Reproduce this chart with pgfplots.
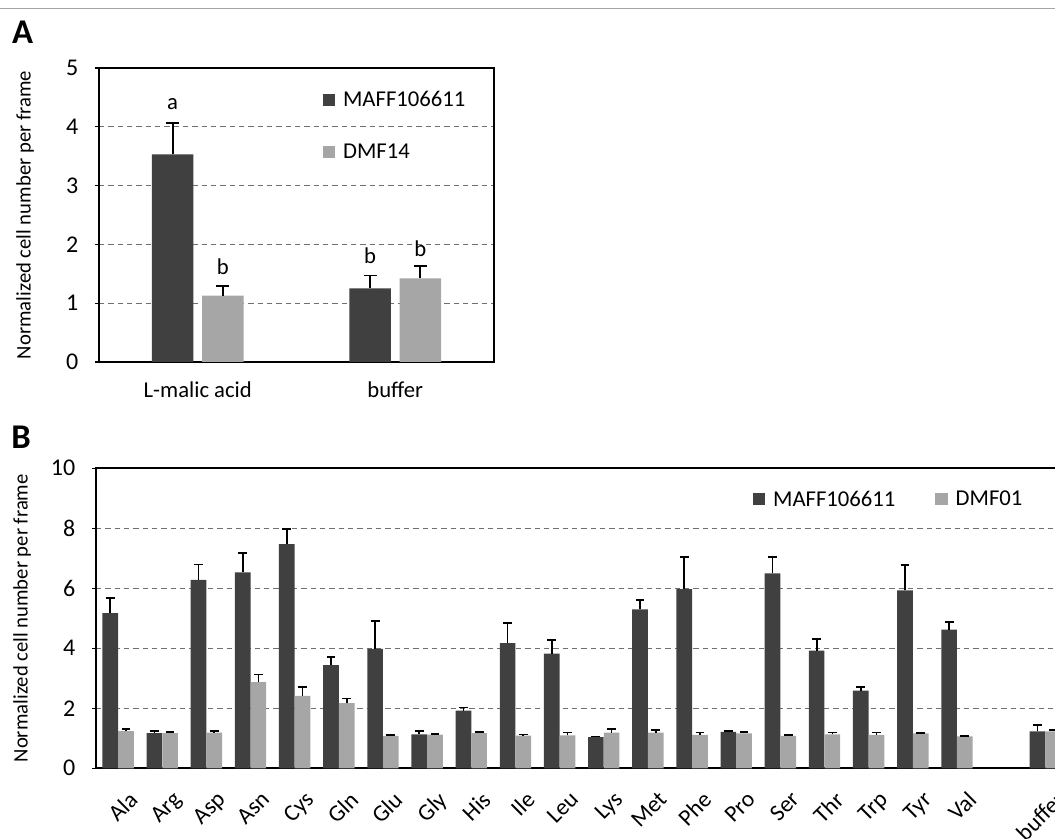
\documentclass[border=0pt]{standalone}
\usepackage{fontspec}
\setmainfont{Carlito}
\usepackage{pgfplots}
\pgfplotsset{compat=1.18}
\usepackage{pgfplotstable}
\usetikzlibrary{calc}

\definecolor{dk}{HTML}{404040}
\definecolor{lt}{HTML}{A6A6A6}
\definecolor{gridc}{HTML}{707070}

\pgfplotstableread{
x y e
0 3.53 0.54
1 1.25 0.22
}\Amaff
\pgfplotstableread{
x y e
0 1.13 0.16
1 1.42 0.21
}\Admf

% B: Ala Arg Asp Asn Cys Gln Glu Gly His Ile Leu Lys Met Phe Pro Ser Thr Trp Tyr Val (gap) buffer
\pgfplotstableread{
x y e
0 5.17 0.50
1 1.17 0.07
2 6.28 0.51
3 6.53 0.65
4 7.47 0.50
5 3.44 0.28
6 3.98 0.93
7 1.13 0.11
8 1.92 0.11
9 4.17 0.68
10 3.82 0.46
11 1.04 0.02
12 5.30 0.31
13 5.97 1.06
14 1.21 0.03
15 6.50 0.53
16 3.92 0.39
17 2.59 0.12
18 5.93 0.85
19 4.62 0.26
21 1.23 0.21
}\Bmaff
\pgfplotstableread{
x y e
0 1.24 0.07
1 1.17 0.05
2 1.19 0.05
3 2.87 0.26
4 2.41 0.29
5 2.17 0.16
6 1.08 0.03
7 1.12 0.02
8 1.17 0.04
9 1.09 0.04
10 1.10 0.09
11 1.19 0.12
12 1.19 0.09
13 1.11 0.08
14 1.16 0.05
15 1.08 0.03
16 1.13 0.06
17 1.11 0.08
18 1.16 0.02
19 1.06 0.02
21 1.23 0.05
}\Bdmf

\pgfplotsset{
  common/.style={
    scale only axis,
    anchor=south west,
    axis line style={line width=1.5pt, black},
    tick align=outside,
    major tick length=3pt,
    ytick pos=left,
    xtick pos=bottom,
    ytick style={line width=1pt, black},
    xtick style={draw=none},
    ymajorgrids,
    major grid style={gridc, line width=0.9pt, dash pattern=on 4pt off 3pt},
    /pgf/number format/assume math mode=true,
    tick label style={font=\fontsize{18}{21}\selectfont},
    yticklabel style={xshift=-9pt},
    every axis y label/.style={at={($(axis description cs:0,0.5)+(-55.5pt,0)$)}, rotate=90, anchor=center, font=\fontsize{15.5}{18}\selectfont},
    ylabel={Normalized cell number per frame},
    legend style={draw=none, fill=none, font=\fontsize{17}{20}\selectfont, inner sep=0pt},
    legend cell align=left,
    error bars/error bar style={line width=1.3pt, black},
  },
  sq/.style={legend image code/.code={\fill[##1] (0pt,-4.6pt) rectangle (9.2pt,4.6pt);}},
}

\begin{document}
\begin{tikzpicture}
\path[use as bounding box] (0,0) rectangle (791.25pt,628.5pt);
\clip (0,0) rectangle (791.25pt,628.5pt);
\draw[color={rgb,255:red,165;green,165;blue,165}, line width=1pt] (0,622.2pt) -- (791.25pt,622.2pt);
\node[font=\fontsize{26}{30}\selectfont\bfseries] at (16.9pt,604.1pt) {A};
\node[font=\fontsize{26}{30}\selectfont\bfseries] at (15.75pt,300.75pt) {B};

% Panel A
\begin{axis}[common,
  at={(74.25pt,357pt)}, width=296.25pt, height=220.5pt,
  xmin=-0.5, xmax=1.5, ymin=0, ymax=5, ytick={0,1,2,3,4,5},
  xtick={0,1}, xticklabels={L-malic acid, buffer},
  xticklabel style={font=\fontsize{17}{20}\selectfont, yshift=-8pt},
  legend style={at={(0.566,0.93)}, anchor=north west, /tikz/row sep=22pt, /tikz/column sep=4pt},
  error bars/error mark options={rotate=90, mark size=4.9pt, line width=1.3pt, black},
]
\addplot[sq, ybar, bar width=0.21, bar shift=0pt, fill=dk, draw=none,
  error bars/.cd, y dir=plus, y explicit]
  table[x expr=\thisrow{x}-0.127, y=y, y error=e] {\Amaff};
\addlegendentry{MAFF106611}
\addplot[sq, ybar, bar width=0.21, bar shift=0pt, fill=lt, draw=none,
  error bars/.cd, y dir=plus, y explicit]
  table[x expr=\thisrow{x}+0.127, y=y, y error=e] {\Admf};
\addlegendentry{DMF14}
\node[anchor=base, font=\fontsize{17}{20}\selectfont] at (axis cs:-0.127,4.29) {a};
\node[anchor=base, font=\fontsize{17}{20}\selectfont] at (axis cs:0.127,1.48) {b};
\node[anchor=base, font=\fontsize{17}{20}\selectfont] at (axis cs:0.873,1.68) {b};
\node[anchor=base, font=\fontsize{17}{20}\selectfont] at (axis cs:1.127,1.79) {b};
\end{axis}

% Panel B
\begin{axis}[common,
  at={(72pt,52.3pt)}, width=728.5pt, height=225pt,
  xmin=-0.5, xmax=21.5, ymin=0, ymax=10, ytick={0,2,4,6,8,10},
  xtick={0,1,2,3,4,5,6,7,8,9,10,11,12,13,14,15,16,17,18,19,21},
  xticklabels={Ala,Arg,Asp,Asn,Cys,Gln,Glu,Gly,His,Ile,Leu,Lys,Met,Phe,Pro,Ser,Thr,Trp,Tyr,Val,buffer},
  xticklabel style={rotate=45, anchor=north east, font=\fontsize{17.5}{20}\selectfont, xshift=-1pt, yshift=-11pt},
  legend columns=2,
  legend style={at={(0.676,0.935)}, anchor=north west, /tikz/column sep=4pt,
    /tikz/every even column/.append style={column sep=28pt}},
  error bars/error mark options={rotate=90, mark size=3.3pt, line width=1.3pt, black},
]
\addplot[sq, ybar, bar width=0.355, bar shift=0pt, fill=dk, draw=none,
  error bars/.cd, y dir=plus, y explicit]
  table[x expr=\thisrow{x}-0.178, y=y, y error=e] {\Bmaff};
\addlegendentry{MAFF106611}
\addplot[sq, ybar, bar width=0.355, bar shift=0pt, fill=lt, draw=none,
  error bars/.cd, y dir=plus, y explicit]
  table[x expr=\thisrow{x}+0.178, y=y, y error=e] {\Bdmf};
\addlegendentry{DMF01}
\end{axis}
\end{tikzpicture}
\end{document}
